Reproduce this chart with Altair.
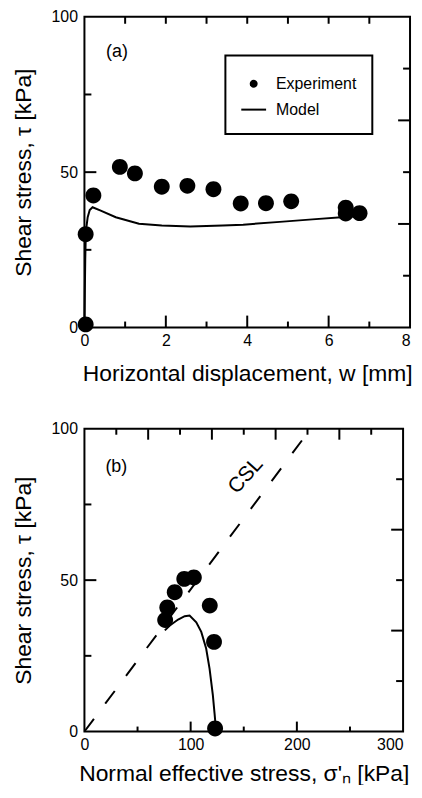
import altair as alt
import pandas as pd

# ---------------- data ----------------
# Panel (a): shear stress vs horizontal displacement
exp_a_w = [0.03, 0.03, 0.22, 0.87, 1.24, 1.90, 2.53, 3.17, 3.84, 4.46, 5.08, 6.42, 6.42, 6.76]
exp_a_tau = [1.0, 30.0, 42.5, 51.7, 49.6, 45.3, 45.6, 44.5, 39.9, 40.0, 40.6, 38.6, 36.7, 36.8]
model_a_w = [0.0, 0.01, 0.02, 0.03, 0.05, 0.08, 0.13, 0.20, 0.40, 0.77, 1.34, 1.90, 2.60,
             3.40, 3.90, 4.80, 5.60, 6.40, 6.80]
model_a_tau = [0.0, 12.0, 22.0, 28.0, 32.5, 35.5, 37.8, 38.7, 37.6, 35.5, 33.4, 32.8, 32.5,
               32.8, 33.1, 34.0, 34.8, 35.6, 36.0]

# Panel (b): shear stress vs normal effective stress
exp_b_sigma = [123, 122, 118, 103, 94, 85, 78, 76]
exp_b_tau = [1.0, 29.6, 41.6, 50.9, 50.4, 46.0, 41.0, 36.8]
model_b_sigma = [124.0, 122.5, 120.9, 117.8, 114.6, 110.0, 105.3, 99.0, 94.4, 88.2, 80.4, 75.7]
model_b_tau = [0.0, 6.0, 12.0, 20.8, 27.4, 32.9, 36.1, 38.3, 38.1, 37.0, 35.0, 33.4]
csl_sigma = [0, 213]
csl_tau = [0, 100]

# tick values
a_x_labels = [0, 2, 4, 6, 8]
a_x_major = [2, 4, 6]
a_x_minor = [1, 3, 5, 7]
a_x_top = [1, 2, 3, 4, 5, 6, 7]
b_x_labels = [0, 100, 200, 300]
b_x_major = [100, 200]
b_x_minor = [50, 150, 250]
b_x_top_long = [60, 120, 180, 240]
b_x_top_short = [30, 90, 150, 210, 270]
y_labels = [0, 50, 100]
y_left_major = [50]
y_left_minor = [25, 75]
y_right_long = [100 / 3, 200 / 3]
y_right_short = [100 / 6, 50, 500 / 6]

# annotations
panel_a_label = {"x": [0.8], "y": [88.8], "t": ["(a)"]}
panel_b_label = {"x": [30], "y": [87.5], "t": ["(b)"]}
csl_label = {"x": [152], "y": [84.5], "t": ["CSL"]}

FONT = "Liberation Sans"
CIRCLE = "M -0.32,0 A 0.32,0.32 0 1,0 0.32,0 A 0.32,0.32 0 1,0 -0.32,0 Z"
BAR = "M -1,-0.08 L 1,-0.08 L 1,0.08 L -1,0.08 Z"
YTITLE = "Shear stress, τ [kPa]"


def axis_x(values, title, tpad, last):
    return alt.Axis(values=values, format="d", ticks=False, domain=False, grid=False,
                    labelFont=FONT, labelFontSize=16, labelColor="black", labelPadding=5,
                    labelFlush=False,
                    labelAlign={"expr": f"datum.value == {last} ? 'right' : 'center'"},
                    title=title, titleFont=FONT, titleFontSize=23,
                    titleFontWeight="normal", titleColor="black", titlePadding=tpad)


def axis_y(title):
    return alt.Axis(values=y_labels, format="d", ticks=False, domain=False, grid=False,
                    labelFont=FONT, labelFontSize=16, labelColor="black", labelPadding=7,
                    labelFlush=False, title=title, titleFont=FONT, titleFontSize=23,
                    titleFontWeight="normal", titleColor="black", titlePadding=16)


def tick_layers(xs, ys, ax, ay, W, H, xmaj, xmin, xtop_long, xtop_short,
                top_long, top_short, maj_len, min_len):
    def rule_x(vals, y0, y1):
        return alt.Chart(pd.DataFrame({"v": vals})).mark_rule(color="black", strokeWidth=2).encode(
            x=alt.X("v:Q", scale=xs, axis=ax), y=alt.value(y0), y2=alt.value(y1))

    def rule_y(vals, x0, x1):
        return alt.Chart(pd.DataFrame({"v": vals})).mark_rule(color="black", strokeWidth=2).encode(
            y=alt.Y("v:Q", scale=ys, axis=ay), x=alt.value(x0), x2=alt.value(x1))

    out = [rule_x(xmaj, H, H - maj_len), rule_x(xmin, H, H - min_len),
           rule_x(xtop_long, 0, top_long)]
    if xtop_short:
        out.append(rule_x(xtop_short, 0, top_short))
    out += [rule_y(y_left_major, 0, 12), rule_y(y_left_minor, 0, 7),
            rule_y(y_right_long, W, W - 12), rule_y(y_right_short, W, W - 7)]
    return out


# ---------------- panel (a) ----------------
WA, HA = 328, 313
xa = alt.Scale(domain=[0, 8], nice=False, zero=False)
ya = alt.Scale(domain=[0, 100], nice=False, zero=False)
axa = axis_x(a_x_labels, "Horizontal displacement, w [mm]", 14, 8)
aya = axis_y(YTITLE)

df_exp_a = pd.DataFrame({"w": exp_a_w, "tau": exp_a_tau, "s": "Experiment"})
df_mod_a = pd.DataFrame({"w": model_a_w, "tau": model_a_tau, "i": range(len(model_a_w))})

model_a = alt.Chart(df_mod_a).mark_line(color="black", strokeWidth=2).encode(
    x=alt.X("w:Q", scale=xa, axis=axa), y=alt.Y("tau:Q", scale=ya, axis=aya), order="i:Q")

points_a = alt.Chart(df_exp_a).mark_point(
    filled=True, color="black", opacity=1, size=2500
).encode(
    x=alt.X("w:Q", scale=xa, axis=axa),
    y=alt.Y("tau:Q", scale=ya, axis=aya),
    shape=alt.Shape("s:N", scale=alt.Scale(domain=["Experiment", "Model"], range=[CIRCLE, BAR]),
                    legend=alt.Legend(orient="none", legendX=142, legendY=39, title=None,
                                      strokeColor="black", padding=16, labelFont=FONT,
                                      labelFontSize=16, labelColor="black", symbolSize=625,
                                      symbolFillColor="black", symbolStrokeWidth=0,
                                      rowPadding=5, labelOffset=10)))

text_a = alt.Chart(pd.DataFrame(panel_a_label)).mark_text(
    font=FONT, fontSize=18, color="black").encode(
    x=alt.X("x:Q", scale=xa, axis=axa), y=alt.Y("y:Q", scale=ya, axis=aya), text="t:N")

chart_a = alt.layer(
    model_a, points_a, text_a,
    *tick_layers(xa, ya, axa, aya, WA, HA, a_x_major, a_x_minor, a_x_top, [], 7, 7, 12, 6)
).properties(width=WA, height=HA)

# ---------------- panel (b) ----------------
WB, HB = 321, 305
xb = alt.Scale(domain=[0, 300], nice=False, zero=False)
yb = alt.Scale(domain=[0, 100], nice=False, zero=False)
axb = axis_x(b_x_labels, "Normal effective stress, σ'ₙ [kPa]", 10, 300)
ayb = axis_y(YTITLE)

df_exp_b = pd.DataFrame({"sig": exp_b_sigma, "tau": exp_b_tau})
df_mod_b = pd.DataFrame({"sig": model_b_sigma, "tau": model_b_tau, "i": range(len(model_b_sigma))})
df_csl = pd.DataFrame({"sig": csl_sigma, "tau": csl_tau})

model_b = alt.Chart(df_mod_b).mark_line(color="black", strokeWidth=2).encode(
    x=alt.X("sig:Q", scale=xb, axis=axb), y=alt.Y("tau:Q", scale=yb, axis=ayb), order="i:Q")

csl_b = alt.Chart(df_csl).mark_line(color="black", strokeWidth=2, strokeDash=[16, 19]).encode(
    x=alt.X("sig:Q", scale=xb, axis=axb), y=alt.Y("tau:Q", scale=yb, axis=ayb))

points_b = alt.Chart(df_exp_b).mark_point(
    filled=True, color="black", opacity=1, shape=CIRCLE, size=2500
).encode(x=alt.X("sig:Q", scale=xb, axis=axb), y=alt.Y("tau:Q", scale=yb, axis=ayb))

text_b = alt.Chart(pd.DataFrame(panel_b_label)).mark_text(
    font=FONT, fontSize=18, color="black").encode(
    x=alt.X("x:Q", scale=xb, axis=axb), y=alt.Y("y:Q", scale=yb, axis=ayb), text="t:N")

text_csl = alt.Chart(pd.DataFrame(csl_label)).mark_text(
    font=FONT, fontSize=21, color="black", angle=312).encode(
    x=alt.X("x:Q", scale=xb, axis=axb), y=alt.Y("y:Q", scale=yb, axis=ayb), text="t:N")

chart_b = alt.layer(
    csl_b, model_b, points_b, text_b, text_csl,
    *tick_layers(xb, yb, axb, ayb, WB, HB, b_x_major, b_x_minor, b_x_top_long, b_x_top_short,
                 11, 6, 10, 5)
).properties(width=WB, height=HB)

chart = alt.vconcat(chart_a, chart_b, spacing=34).properties(
    padding={"left": 3, "top": -3, "right": 0, "bottom": -4}
).configure_view(stroke="black", strokeWidth=2).configure_legend(strokeWidth=2)

chart.save("out.html", embed_options={"renderer": "svg", "actions": False})
